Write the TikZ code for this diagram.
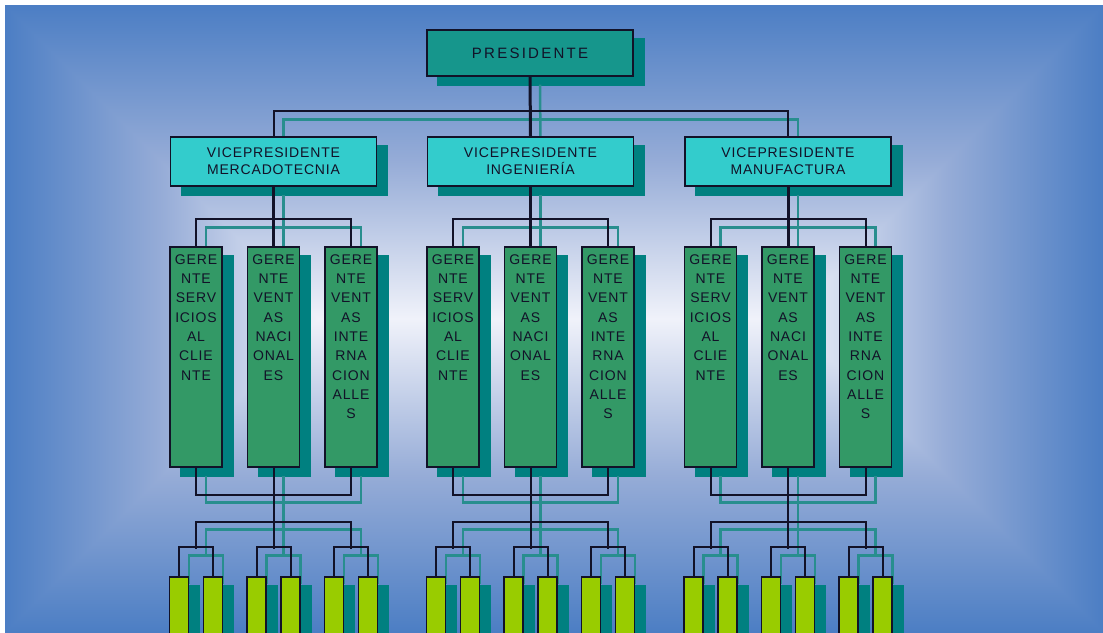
\documentclass[tikz,border=0pt]{standalone}
\usepackage{fontspec}
\setmainfont{Liberation Sans}
\newfontfamily\orgfont[LetterSpace=6]{Liberation Sans}
\newfontfamily\presfont[LetterSpace=15]{Liberation Sans}
\usetikzlibrary{positioning}

\definecolor{bgout}{RGB}{76,126,196}
\definecolor{bgmid}{RGB}{150,172,215}
\definecolor{bgin}{RGB}{240,242,250}
\definecolor{ink}{RGB}{18,18,40}
\definecolor{presfill}{RGB}{22,150,140}
\definecolor{vpfill}{RGB}{51,204,204}
\definecolor{gfill}{RGB}{51,153,102}
\definecolor{yfill}{RGB}{153,204,0}
\definecolor{boxteal}{RGB}{0,128,128}
\definecolor{wteal}{RGB}{40,142,142}

\pgfdeclarelayer{bg}
\pgfdeclarelayer{shade}
\pgfdeclarelayer{wires}
\pgfsetlayers{bg,shade,wires,main}

% connectors of the whole chart (drawn twice: shadow and line)
\newcommand{\orgwires}{%
  \draw[mainwire] (pres.south) -- (vp2.north);
  \draw[wire] (vp1.north) -- ++(0,-25) -| (vp3.north);
  \foreach \i in {1,2,3}{
    \draw[mainwire] (vp\i.south) -- ([yshift=-27pt]g\i2.north);
    \draw[wire] ([yshift=-27pt]g\i2.north) -- (g\i2.north);
    \draw[wire] (g\i1.north) -- ++(0,-27) -| (g\i3.north);
    \draw[wire] (g\i1.south) -- ++(0,27) -| (g\i3.south);
    \draw[wire] (g\i2.south) -- ++(0,81);
    \draw[wire] ([yshift=-81pt]g\i1.south) -- ++(0,-27) -| ([yshift=-81pt]g\i3.south);
    \foreach \j in {1,2,3}
      \draw[wire] (y\i\j1.north) -- ++(0,-29) -| (y\i\j2.north);
  }
}

\begin{document}
\begin{tikzpicture}[x=1pt, y=-1pt,
  box/.style={draw=ink, line width=1.4pt, inner sep=0pt, text=ink},
  presbox/.style={box, fill=presfill, minimum width=206pt, minimum height=46pt,
    font=\presfont\fontsize{15}{18}\selectfont},
  vpbox/.style={box, fill=vpfill, minimum width=206pt, minimum height=49pt,
    align=center, font=\orgfont\fontsize{14}{17}\selectfont},
  gbox/.style={box, fill=gfill, minimum width=52pt, minimum height=220pt},
  gtext/.style={align=center, inner sep=0pt, text=ink,
    font=\orgfont\fontsize{14}{19.3}\selectfont},
  ybox/.style={box, fill=yfill, minimum width=19pt, minimum height=70pt},
  wire/.style={draw=ink, line width=2pt},
  mainwire/.style={draw=ink, line width=3pt},
  wshadow/.style={draw=wteal, line width=2.5pt}
  ]

  \useasboundingbox (0,0) rectangle (1103,632);

  % background frame
  \begin{pgfonlayer}{bg}
    \fill[white] (0,0) rectangle (1103,632);
    \shade[top color=bgout, bottom color=bgin, middle color=bgmid]
      (5,5) rectangle (1103,318.5);
    \shade[top color=bgin, bottom color=bgout, middle color=bgmid]
      (5,318.5) rectangle (1103,632);
    \shade[left color=bgout, right color=bgin, middle color=bgmid]
      (5,5) -- (318.5,318.5) -- (5,632) -- cycle;
    \shade[left color=bgin, right color=bgout, middle color=bgmid]
      (1103,5) -- (789.5,318.5) -- (1103,632) -- cycle;
  \end{pgfonlayer}

  \node[presbox] (pres) at (530,53) {PRESIDENTE};

  \foreach \i/\x/\area in {1/273.5/MERCADOTECNIA, 2/530.5/INGENIERÍA, 3/788/MANUFACTURA}{
    \node[vpbox] (vp\i) at (\x,161.5) {VICEPRESIDENTE\\\area};
    \foreach \j/\dx/\txt in {1/-77.5/{GERE\\NTE\\SERV\\ICIOS\\AL\\CLIE\\NTE},
                             2/0/{GERE\\NTE\\VENT\\AS\\NACI\\ONAL\\ES},
                             3/77.5/{GERE\\NTE\\VENT\\AS\\INTE\\RNA\\CION\\ALLE\\S}}{
      \node[gbox] (g\i\j) at (\x+\dx,357) {};
      \node[gtext, below=8pt of g\i\j.north] (t\i\j) {\txt};
      \node[ybox] (y\i\j1) at (\x+\dx-17,612) {};
      \node[ybox] (y\i\j2) at (\x+\dx+17,612) {};
    }
  }

  % shadows
  \begin{pgfonlayer}{shade}
    \foreach \n in {pres,vp1,vp2,vp3}
      \fill[boxteal] ([xshift=11pt,yshift=-9pt]\n.north west) rectangle ([xshift=11pt,yshift=-9pt]\n.south east);
    \foreach \i in {1,2,3}
      \foreach \j in {1,2,3}
        \foreach \n in {g\i\j,y\i\j1,y\i\j2}
          \fill[boxteal] ([xshift=11pt,yshift=-9pt]\n.north west) rectangle ([xshift=11pt,yshift=-9pt]\n.south east);
    \begin{scope}[transform canvas={shift={(10pt,-8pt)}}, wire/.style={wshadow}, mainwire/.style={wshadow}]
      \orgwires
    \end{scope}
  \end{pgfonlayer}

  \begin{pgfonlayer}{wires}
    \orgwires
  \end{pgfonlayer}

\end{tikzpicture}
\end{document}
